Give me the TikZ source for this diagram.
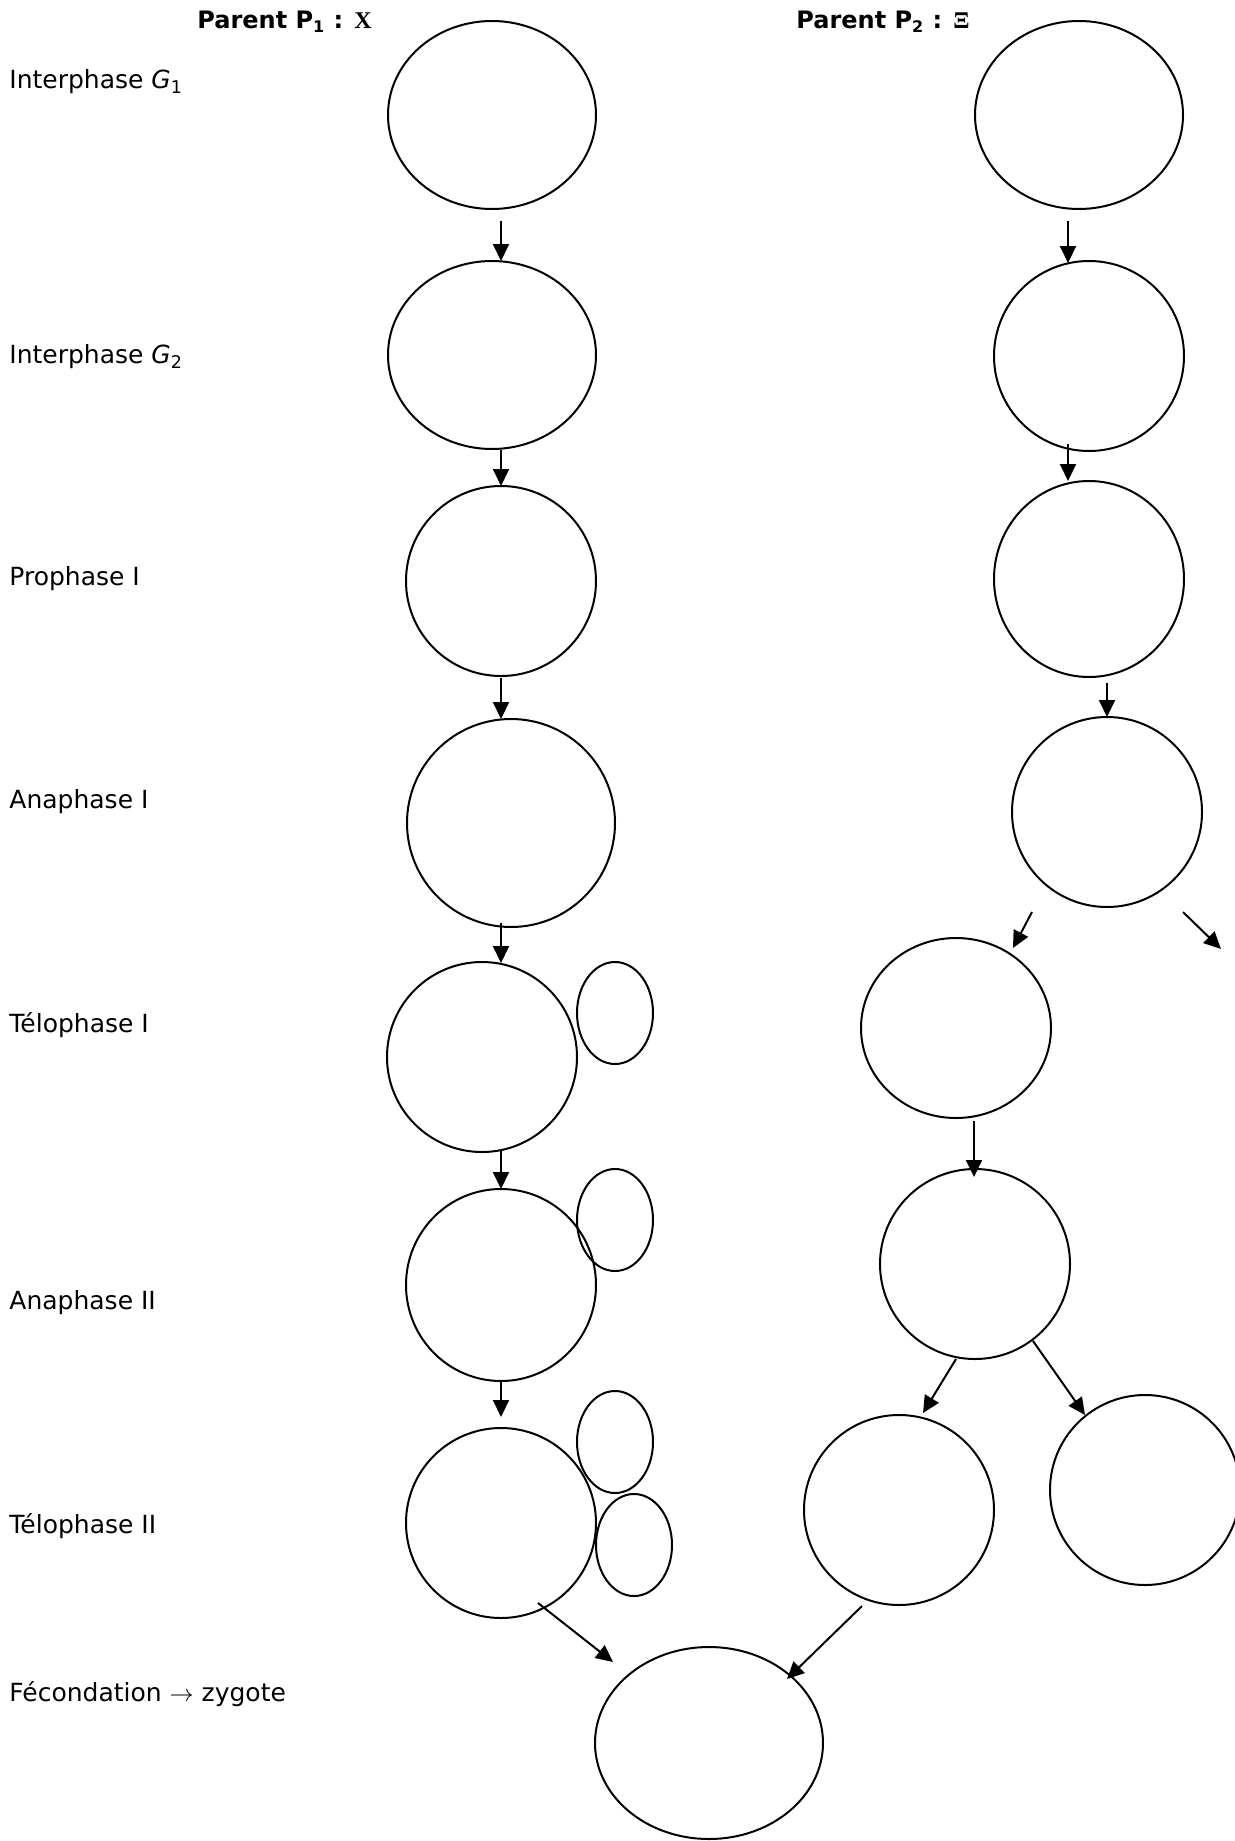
\documentclass[tikz,border=0pt]{standalone}
\usepackage{fontspec}
\setmainfont{DejaVu Sans}
\newfontfamily\serifbold{Liberation Serif}
\usetikzlibrary{arrows.meta,positioning,shapes.geometric,calc}

\tikzset{
	cell/.style={draw, ellipse, line width=1pt, inner sep=0pt, outer sep=0pt},
	dims/.style 2 args={minimum width=#1pt, minimum height=#2pt},
	stage/.style={anchor=west, inner sep=0pt, font=\fontsize{12.5}{14}\selectfont},
	parent/.style={anchor=west, inner sep=0pt, font=\fontsize{12}{14}\selectfont\bfseries},
	arr/.style={-{Triangle[length=8.5pt,width=8pt]}, line width=1pt}
}

\begin{document}
\begin{tikzpicture}[x=0.5pt, y=-0.5pt]
	\useasboundingbox (0,0) rectangle (1235,1841);

	% headers and stages
	\node[parent]	(hdone)		at	(197,22)	{Parent P\textsubscript{1} : {\serifbold X}};
	\node[parent]	(hdtwo)		at	(796,22)	{Parent P\textsubscript{2} : {\serifbold Ξ}};
	\node[stage]	(sgone)		at	(9,82)		{Interphase {\itshape G}\textsubscript{1}};
	\node[stage]	(sgtwo)		at	(9,357)		{Interphase {\itshape G}\textsubscript{2}};
	\node[stage]	(spro)		at	(9,579)		{Prophase I};
	\node[stage]	(sana)		at	(9,802)		{Anaphase I};
	\node[stage]	(stelo)		at	(9,1025)	{Télophase I};
	\node[stage]	(sanaII)	at	(9,1303)	{Anaphase II};
	\node[stage]	(steloII)	at	(9,1526)	{Télophase II};
	\node[stage]	(sfec)		at	(9,1694)	{Fécondation $\rightarrow$ zygote};

	% parent 1
	\node[cell, dims={104}{94}]	(p1g1)		at	(492,115)	{};
	\node[cell, dims={104}{94}]	(p1g2)		at	(492,355)	{};
	\node[cell, dims={95}{95}]	(p1pro)		at	(501,581)	{};
	\node[cell, dims={104}{104}]	(p1ana)		at	(511,823)	{};
	\node[cell, dims={95}{95}]	(p1telo)	at	(482,1057)	{};
	\node[cell, dims={38}{51}]	(p1telos)	at	(615,1013)	{};
	\node[cell, dims={95}{96}]	(p1anaII)	at	(501,1285)	{};
	\node[cell, dims={38}{51}]	(p1anaIIs)	at	(615,1220)	{};
	\node[cell, dims={95}{95}]	(p1teloII)	at	(501,1523)	{};
	\node[cell, dims={38}{51}]	(p1teloIIa)	at	(615,1442)	{};
	\node[cell, dims={38}{51}]	(p1teloIIb)	at	(634,1545)	{};
	\draw[arr] ($(p1g1.south)+(9,12)$)	-- ($(p1g2.north)+(9,0)$);
	\draw[arr] ($(p1g2.south)+(9,1)$)	-- (p1pro.north);
	\draw[arr] ($(p1pro.south)+(0,2)$)	-- ($(p1ana.north)+(-10,0)$);
	\draw[arr] ($(p1ana.south)+(-10,-4)$)	-- ($(p1telo.north)+(19,1)$);
	\draw[arr] ($(p1telo.south)+(19,-1)$)	-- (p1anaII.north);
	\draw[arr] ($(p1anaII.south)+(0,1)$)	-- ($(p1teloII.north)+(0,-11)$);

	% parent 2
	\node[cell, dims={104}{94}]	(p2g1)		at	(1079,115)	{};
	\node[cell, dims={95}{95}]	(p2g2)		at	(1089,356)	{};
	\node[cell, dims={95}{98}]	(p2pro)		at	(1089,579)	{};
	\node[cell, dims={95}{95}]	(p2ana)		at	(1107,812)	{};
	\node[cell, dims={95}{90}]	(p2telo)	at	(956,1028)	{};
	\node[cell, dims={95}{95}]	(p2anaII)	at	(975,1264)	{};
	\node[cell, dims={95}{95}]	(p2teloa)	at	(899,1510)	{};
	\node[cell, dims={95}{95}]	(p2telob)	at	(1145,1490)	{};
	\coordinate	(p2lost)	at	(1221,949);
	\draw[arr] ($(p2g1.south)+(-11,12)$)	-- ($(p2g2.north)+(-21,2)$);
	\draw[arr] ($(p2g2.south)+(-21,-7)$)	-- ($(p2pro.north)+(-21,0)$);
	\draw[arr] ($(p2pro.south)+(18,6)$)	-- (p2ana.north);
	\draw[arr] ($(p2ana.center)+(-75,100)$)	-- ($(p2telo.center)+(57,-80)$);
	\draw[arr] ($(p2ana.center)+(76,100)$)	-- (p2lost);
	\draw[arr] ($(p2telo.south)+(18,3)$)	-- ($(p2anaII.north)+(-1,8)$);
	\draw[arr] ($(p2anaII.center)+(-19,95)$)	-- ($(p2teloa.center)+(24,-97)$);
	\draw[arr] ($(p2anaII.center)+(58,77)$)	-- ($(p2telob.center)+(-60,-75)$);

	% fertilisation
	\node[cell, dims={114}{96}]	(zyg)		at	(709,1743)	{};
	\draw[arr] ($(p1teloII.center)+(37,80)$)	-- ($(zyg.center)+(-96,-81)$);
	\draw[arr] ($(p2teloa.center)+(-37,96)$)	-- ($(zyg.center)+(78,-64)$);
\end{tikzpicture}
\end{document}
